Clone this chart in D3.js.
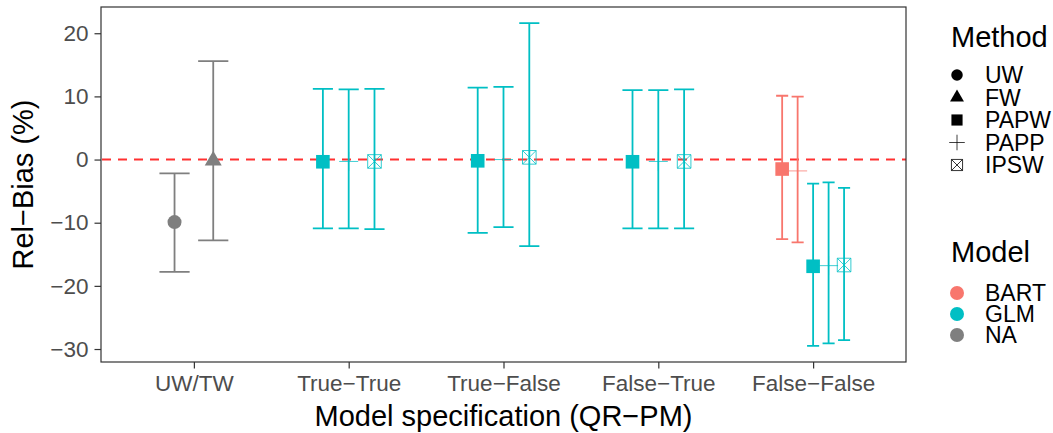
<!DOCTYPE html>
<html>
<head>
<meta charset="utf-8">
<script src="https://cdn.jsdelivr.net/npm/d3@7"></script>
<style>
  body { margin: 0; background: #fff; }
  text { font-family: "Liberation Sans", Arial, Helvetica, sans-serif; }
</style>
</head>
<body>
<svg id="chart" width="1053" height="433"></svg>
<script>
// Categories and legend keys
const specs = ["UW/TW", "True−True", "True−False", "False−True", "False−False"];
const methods = ["UW", "FW", "PAPW", "PAPP", "IPSW"];
const models = ["BART", "GLM", "NA"];
const modelColors = ["#F8766D", "#00BFC4", "#7F7F7F"];
const yTicks = [-30, -20, -10, 0, 10, 20];

// One entry per estimate (relative bias, %, with interval bounds)
const rowSpec   = ["UW/TW", "UW/TW",
                   "True−True", "True−True", "True−True",
                   "True−False", "True−False", "True−False",
                   "False−True", "False−True", "False−True",
                   "False−False", "False−False", "False−False", "False−False", "False−False"];
const rowMethod = ["UW", "FW",
                   "PAPW", "PAPP", "IPSW",
                   "PAPW", "PAPP", "IPSW",
                   "PAPW", "PAPP", "IPSW",
                   "PAPW", "PAPP", "PAPW", "PAPP", "IPSW"];
const rowModel  = ["NA", "NA",
                   "GLM", "GLM", "GLM",
                   "GLM", "GLM", "GLM",
                   "GLM", "GLM", "GLM",
                   "BART", "BART", "GLM", "GLM", "GLM"];
const estimate  = [-9.9, -0.15, -0.35, -0.3, -0.3, -0.2, 0.0, 0.35, -0.35, -0.3, -0.3, -1.5, -1.8, -16.9, -16.8, -16.7];
const lower     = [-17.8, -12.8, -10.9, -10.9, -11.0, -11.6, -10.7, -13.7, -10.9, -10.9, -10.9, -12.6, -13.1, -29.5, -29.1, -28.6];
const upper     = [-2.2, 15.6, 11.2, 11.1, 11.2, 11.4, 11.5, 21.6, 11.0, 11.0, 11.1, 10.1, 9.95, -3.8, -3.6, -4.5];

const rows = rowSpec.map((s, i) => ({
  spec: s, method: rowMethod[i], model: rowModel[i],
  est: estimate[i], lo: lower[i], hi: upper[i]
}));

const panel = { left: 101, right: 906, top: 7, bottom: 362 };
const svg = d3.select("#chart");

// Scales
const x = d3.scalePoint().domain(specs).range([panel.left, panel.right]).padding(0.6);
const lo = d3.min(lower), hi = d3.max(upper), pad = (hi - lo) * 0.05;
const y = d3.scaleLinear().domain([lo - pad, hi + pad]).range([panel.bottom, panel.top]);
const color = d3.scaleOrdinal().domain(models).range(modelColors);

// Dodging within each specification
const dodgeWidth = 0.5, barWidth = 0.39;
const step = x.step();
specs.forEach(s => {
  const grp = rows.filter(r => r.spec === s);
  const n = grp.length;
  grp.forEach((r, i) => {
    r.cx = x(s) + (i - (n - 1) / 2) * dodgeWidth * step / n;
    r.cap = barWidth * step / n / 2;
  });
});

// Point shapes
function drawShape(g, method, cx, cy, col, k) {
  const s = k || 1;
  if (method === "UW") {
    g.append("circle").attr("cx", cx).attr("cy", cy).attr("r", 7 * s).attr("fill", col);
  } else if (method === "FW") {
    const r = 9.8 * s, xc = r * Math.sqrt(3) / 2;
    g.append("path")
      .attr("d", `M${cx},${cy - r}L${cx + xc},${cy + r / 2}L${cx - xc},${cy + r / 2}Z`)
      .attr("fill", col);
  } else if (method === "PAPW") {
    const h = 6.8 * s;
    g.append("rect").attr("x", cx - h).attr("y", cy - h).attr("width", 2 * h).attr("height", 2 * h).attr("fill", col);
  } else if (method === "PAPP") {
    const h = 9.5 * s;
    g.append("path").attr("d", `M${cx - h},${cy}H${cx + h}M${cx},${cy - h}V${cy + h}`)
      .attr("stroke", col).attr("stroke-width", 1).attr("fill", "none").attr("opacity", 0.75);
  } else if (method === "IPSW") {
    const h = 6.8 * s;
    g.append("path")
      .attr("d", `M${cx - h},${cy - h}H${cx + h}V${cy + h}H${cx - h}Z` +
                 `M${cx - h},${cy - h}L${cx + h},${cy + h}M${cx + h},${cy - h}L${cx - h},${cy + h}`)
      .attr("stroke", col).attr("stroke-width", 1).attr("fill", "none").attr("opacity", 0.8);
  }
}

// Reference line at zero
svg.append("line")
  .attr("x1", panel.left).attr("x2", panel.right)
  .attr("y1", y(0)).attr("y2", y(0))
  .attr("stroke", "#FF3030").attr("stroke-width", 2)
  .attr("stroke-dasharray", "9,7").attr("stroke-dashoffset", -1);

// Error bars
const bars = svg.append("g").attr("fill", "none").attr("stroke-width", 1.8);
rows.forEach(r => {
  const c = color(r.model);
  bars.append("path")
    .attr("d", `M${r.cx},${y(r.hi)}V${y(r.lo)}` +
               `M${r.cx - r.cap},${y(r.hi)}H${r.cx + r.cap}` +
               `M${r.cx - r.cap},${y(r.lo)}H${r.cx + r.cap}`)
    .attr("stroke", c);
});

// Points
const pts = svg.append("g");
rows.forEach(r => drawShape(pts, r.method, r.cx, y(r.est), color(r.model)));

// Panel border
svg.append("rect")
  .attr("x", panel.left).attr("y", panel.top)
  .attr("width", panel.right - panel.left).attr("height", panel.bottom - panel.top)
  .attr("fill", "none").attr("stroke", "#333333").attr("stroke-width", 1.2);

// Axes
const yAxis = svg.append("g").attr("transform", `translate(${panel.left},0)`)
  .call(d3.axisLeft(y).tickValues(yTicks).tickSize(6.5).tickPadding(6));
const xAxis = svg.append("g").attr("transform", `translate(0,${panel.bottom})`)
  .call(d3.axisBottom(x).tickSize(6.5).tickPadding(7));
[yAxis, xAxis].forEach(a => {
  a.select(".domain").remove();
  a.selectAll(".tick line").attr("stroke", "#333333").attr("stroke-width", 1.2);
  a.selectAll(".tick text").attr("fill", "#4D4D4D").style("font-size", "22.5px");
});

// Axis titles
svg.append("text")
  .attr("x", (panel.left + panel.right) / 2).attr("y", 426)
  .attr("text-anchor", "middle").style("font-size", "29px").attr("fill", "#000")
  .text("Model specification (QR−PM)");
svg.append("text")
  .attr("transform", `translate(33,${(panel.top + panel.bottom) / 2}) rotate(-90)`)
  .attr("text-anchor", "middle").style("font-size", "29px").attr("fill", "#000")
  .text("Rel−Bias (%)");

// Legends
const legX = 951, keyX = 957, labX = 985;
svg.append("text").attr("x", legX).attr("y", 47).style("font-size", "29px").text("Method");
methods.forEach((m, i) => {
  const cy = 75 + i * 22.5;
  drawShape(svg, m, keyX, cy, "#000", 0.82);
  svg.append("text").attr("x", labX).attr("y", cy).attr("dy", "0.36em")
    .style("font-size", "23px").text(m);
});
svg.append("text").attr("x", legX).attr("y", 262).style("font-size", "29px").text("Model");
models.forEach((m, i) => {
  const cy = 293 + i * 21;
  svg.append("circle").attr("cx", keyX).attr("cy", cy).attr("r", 7).attr("fill", color(m));
  svg.append("text").attr("x", labX).attr("y", cy).attr("dy", "0.36em")
    .style("font-size", "23px").text(m);
});
</script>
</body>
</html>
